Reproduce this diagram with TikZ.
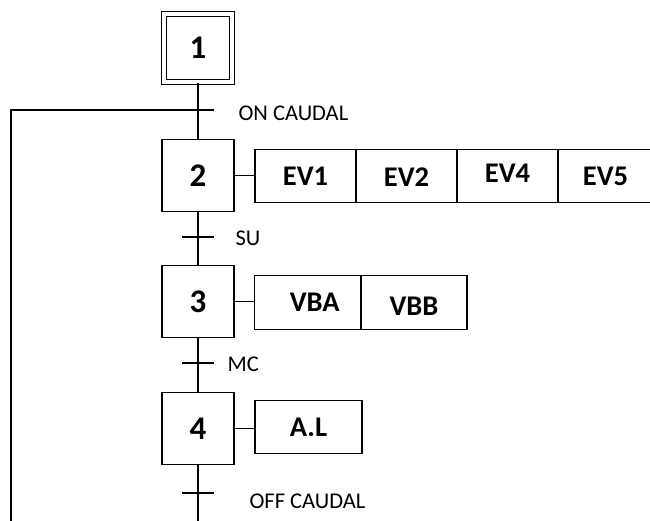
\documentclass[tikz,border=0pt]{standalone}
\usepackage{fontspec}
\setmainfont{Carlito}
\begin{document}
\begin{tikzpicture}[x=1pt,y=-1pt,line width=1.2pt,
  stepbox/.style={draw,minimum width=72pt,minimum height=72pt,inner sep=0pt,
    text height=21pt,text depth=0pt,font=\bfseries\fontsize{33}{33}\selectfont},
  actbox/.style={draw,inner sep=0pt,outer sep=0pt,minimum height=53pt,anchor=west,
    text height=18pt,text depth=0pt,font=\bfseries\fontsize{28.5}{28.5}\selectfont},
  lbl/.style={inner sep=0pt,anchor=base west,font=\fontsize{22.5}{22.5}\selectfont},
  tick/.style={line width=1.2pt}]
\clip (0,0) rectangle (650,520);
% steps
\node[stepbox,double,double distance=3.6pt,minimum width=68pt,minimum height=68pt] (s1) at (198,48) {1};
\node[stepbox] (s2) at (198,175.5) {2};
\node[stepbox] (s3) at (198,301.5) {3};
\node[stepbox] (s4) at (198,428.5) {4};
% transitions
\coordinate (t1) at (198,110);
\coordinate (t2) at (198,237);
\coordinate (t3) at (198,363);
\coordinate (t4) at (198,493);
\coordinate (t1l) at (182,110); \coordinate (t1r) at (214,110);
\coordinate (t2l) at (182,237); \coordinate (t2r) at (214,237);
\coordinate (t3l) at (182,363); \coordinate (t3r) at (214,363);
\coordinate (t4l) at (182,493); \coordinate (t4r) at (214,493);
\draw (s1.south) -- (s2.north);
\draw (s2.south) -- (s3.north);
\draw (s3.south) -- (s4.north);
\coordinate (endm) at (198,530);
\draw (s4.south) -- (endm);
\draw[tick] (t1l) -- (t1r);
\draw[tick] (t2l) -- (t2r);
\draw[tick] (t3l) -- (t3r);
\draw[tick] (t4l) -- (t4r);
% labels
\node[lbl] (l1) at (238,120) {ON CAUDAL};
\node[lbl] (l2) at (235,245) {SU};
\node[lbl] (l3) at (227,371) {MC};
\node[lbl] (l4) at (249,508) {OFF CAUDAL};
% loop
\coordinate (lb) at (11,530);
\draw (t1) -- (t1 -| lb) -- (lb);
% actions step 2
\node[actbox,minimum width=101pt] (ev1) at (255,176) {EV1};
\node[actbox,minimum width=101pt] (ev2) at (ev1.east) {\raisebox{-1pt}{EV2}};
\node[actbox,minimum width=101pt] (ev4) at (ev2.east) {\raisebox{3pt}{EV4}};
\node[actbox,minimum width=95pt] (ev5) at (ev4.east) {EV5\hspace{4pt}};
\draw (s2.east) -- (s2.east -| ev1.west);
% actions step 3
\node[actbox,minimum width=106.5pt,minimum height=54pt] (vba) at (254.5,302.5) {\hspace{14pt}VBA};
\node[actbox,minimum width=106pt,minimum height=54pt] (vbb) at (vba.east) {\raisebox{-4pt}{VBB}\hspace{8pt}};
\draw (s3.east) -- (s3.east -| vba.west);
% action step 4
\node[actbox,minimum width=107pt] (al) at (255,427) {A.L\hspace{23pt}};
\draw (s4.east) -- (s4.east -| al.west);
\end{tikzpicture}
\end{document}
